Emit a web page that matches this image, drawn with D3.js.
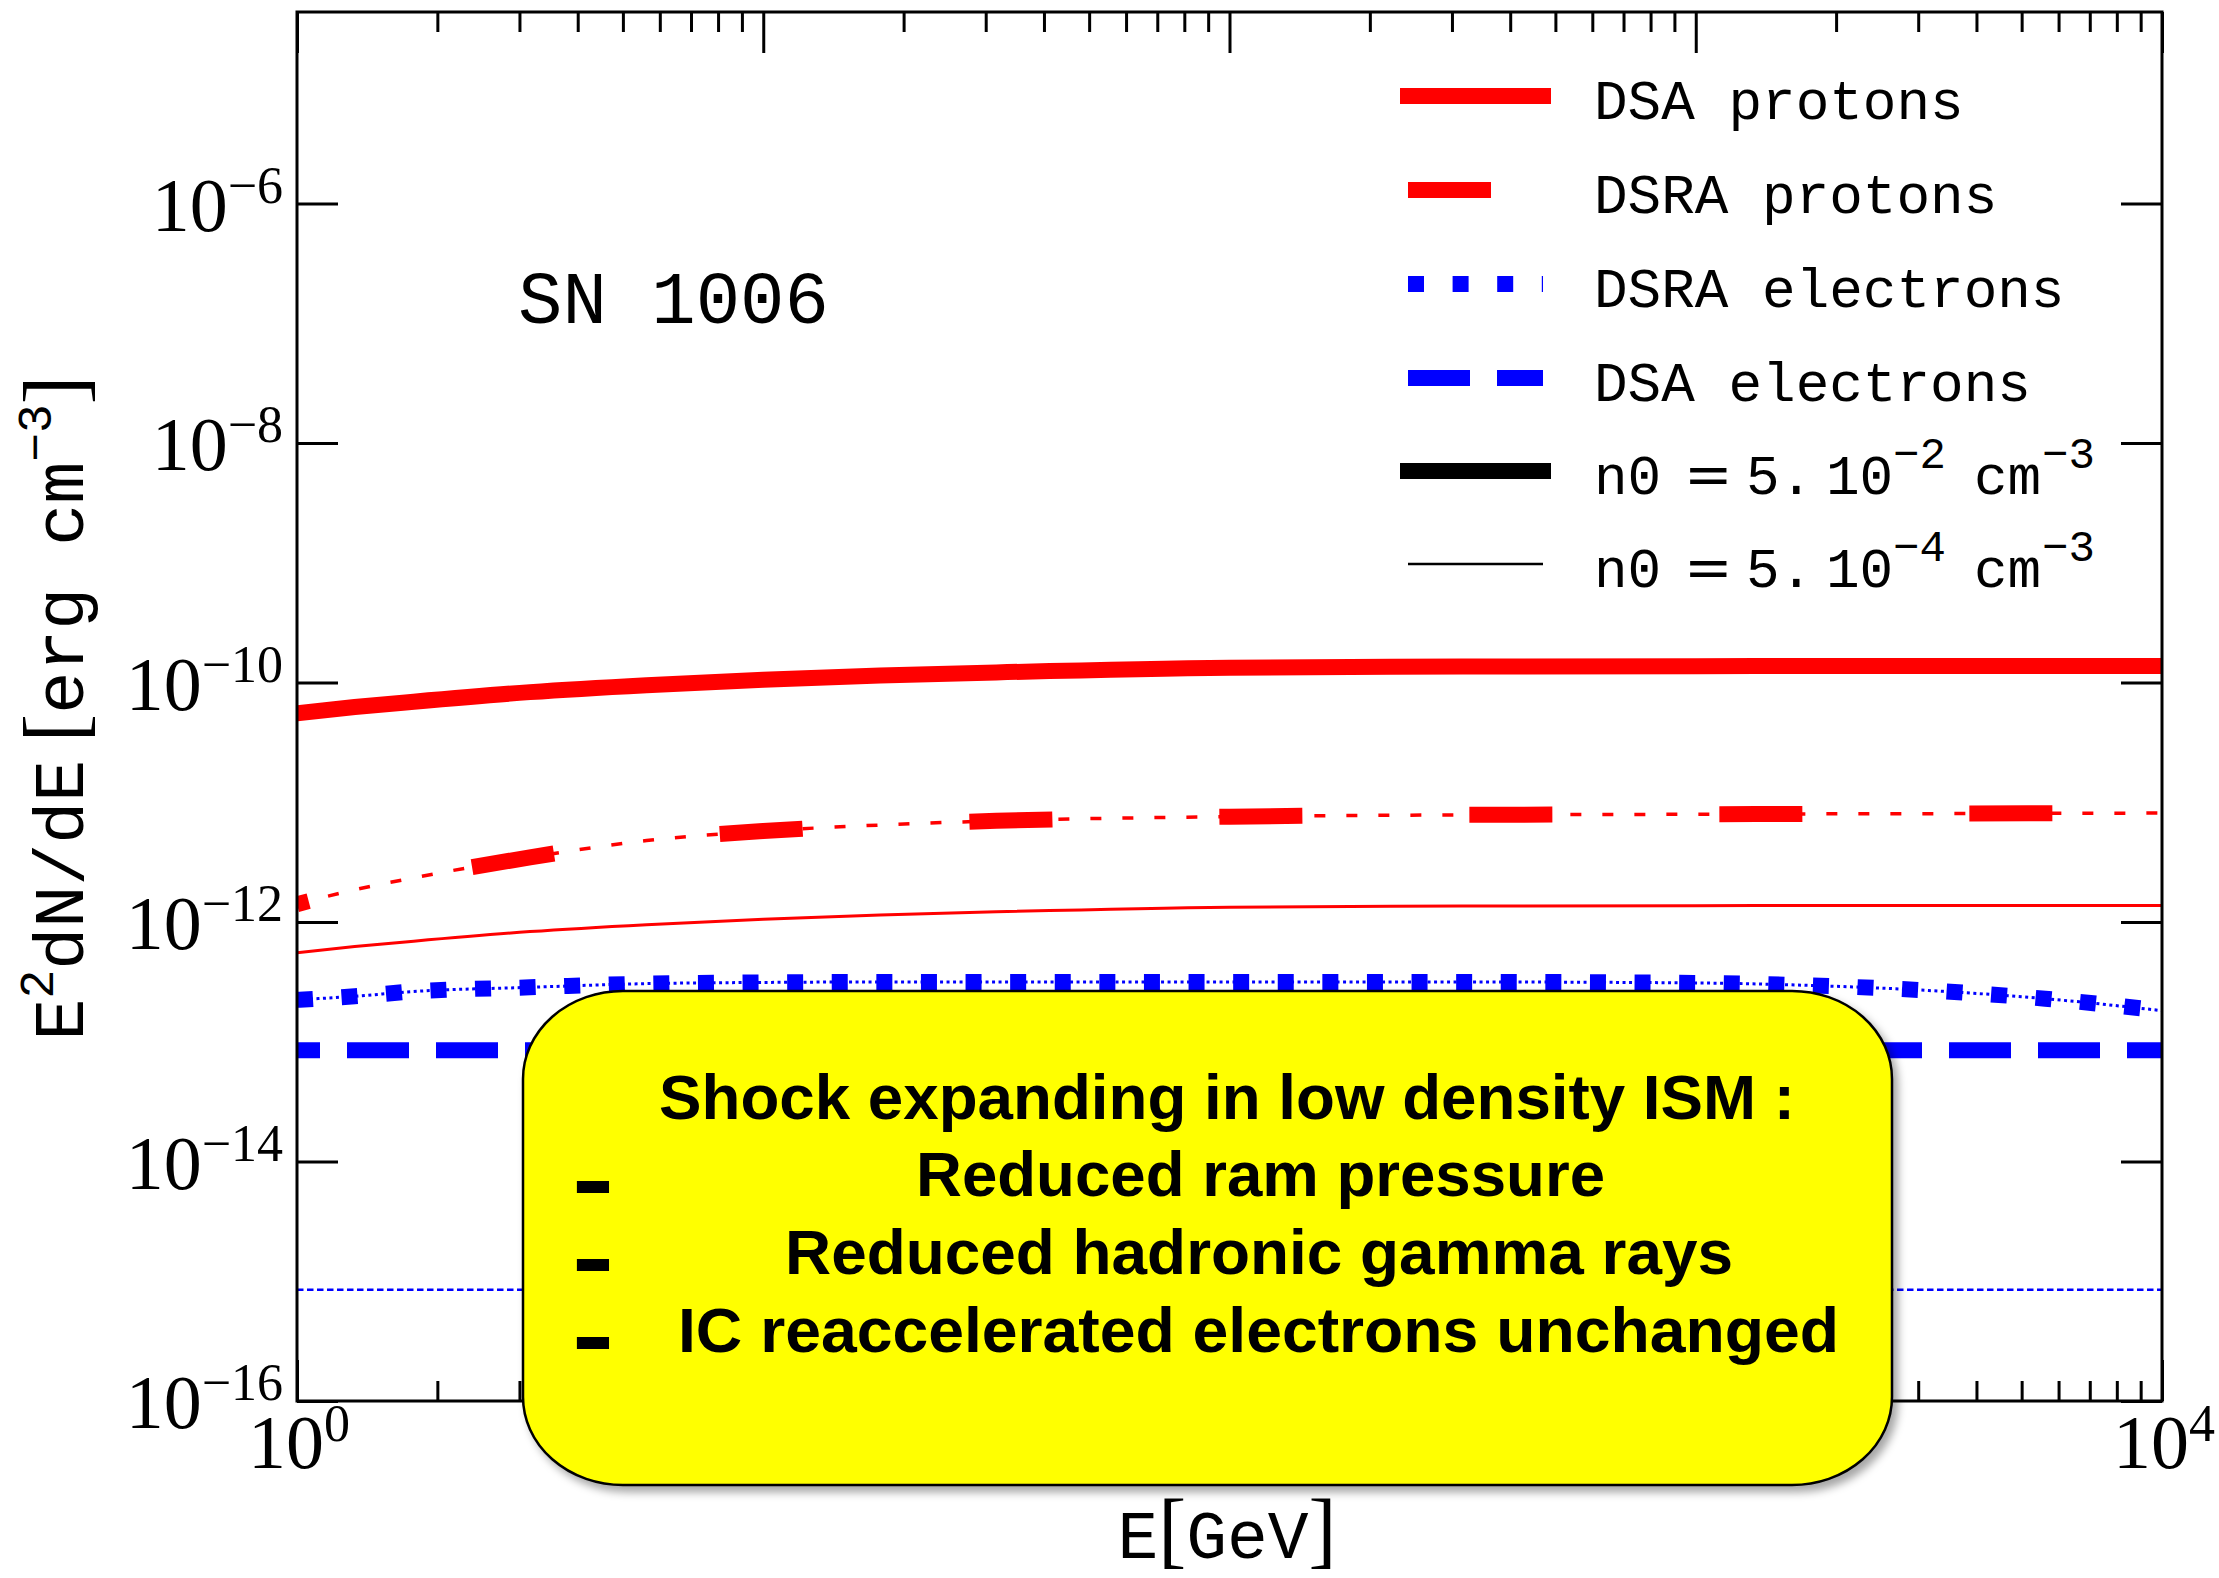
<!DOCTYPE html>
<html><head><meta charset="utf-8">
<script src="https://cdn.jsdelivr.net/npm/d3@7"></script>
<style>html,body{margin:0;padding:0;background:#fff;} svg{display:block;}</style>
</head><body>
<svg id="chart" width="2219" height="1578"></svg>
<script>
// ---------------- DATA ----------------
const energyGeV = [1, 1.33, 1.78, 3.16, 5.62, 10, 17.8, 31.6, 100, 316, 1000, 1780, 3160, 5620, 10000];
const dsaProtonsHigh  = [5.55e-11, 6.24e-11, 6.92e-11, 8.32e-11, 9.51e-11, 1.054e-10, 1.143e-10, 1.216e-10, 1.330e-10, 1.361e-10, 1.371e-10, 1.374e-10, 1.374e-10, 1.374e-10, 1.374e-10];
const dsaProtonsLow   = [5.55e-13, 6.24e-13, 6.92e-13, 8.32e-13, 9.51e-13, 1.054e-12, 1.143e-12, 1.216e-12, 1.330e-12, 1.361e-12, 1.371e-12, 1.374e-12, 1.374e-12, 1.374e-12, 1.374e-12];
const dsraProtonsHigh = [1.41e-12, 1.86e-12, 2.34e-12, 3.47e-12, 4.79e-12, 5.75e-12, 6.46e-12, 7.00e-12, 7.59e-12, 7.85e-12, 7.94e-12, 8.00e-12, 8.04e-12, 8.09e-12, 8.13e-12];
const dsraProtonsLow  = [1.41e-12, 1.86e-12, 2.34e-12, 3.47e-12, 4.79e-12, 5.75e-12, 6.46e-12, 7.00e-12, 7.59e-12, 7.85e-12, 7.94e-12, 8.00e-12, 8.04e-12, 8.09e-12, 8.13e-12];
const dsraElectronsHigh = [2.24e-13, 2.40e-13, 2.63e-13, 2.85e-13, 3.06e-13, 3.13e-13, 3.16e-13, 3.16e-13, 3.16e-13, 3.16e-13, 3.10e-13, 2.95e-13, 2.68e-13, 2.29e-13, 1.82e-13];
const dsraElectronsLow  = [2.24e-13, 2.40e-13, 2.63e-13, 2.85e-13, 3.06e-13, 3.13e-13, 3.16e-13, 3.16e-13, 3.16e-13, 3.16e-13, 3.10e-13, 2.95e-13, 2.68e-13, 2.29e-13, 1.82e-13];
const dsaElectronsHigh = [8.5e-14, 8.5e-14, 8.5e-14, 8.5e-14, 8.5e-14, 8.5e-14, 8.5e-14, 8.5e-14, 8.5e-14, 8.5e-14, 8.5e-14, 8.5e-14, 8.5e-14, 8.5e-14, 8.5e-14];
const dsaElectronsLow  = [8.5e-16, 8.5e-16, 8.5e-16, 8.5e-16, 8.5e-16, 8.5e-16, 8.5e-16, 8.5e-16, 8.5e-16, 8.5e-16, 8.5e-16, 8.5e-16, 8.5e-16, 8.5e-16, 8.5e-16];

const xMajorTicks = [1, 10, 100, 1000, 10000];
const xTickLabels = [[1, "0"], [10000, "4"]];
const yMajorTicks = [1e-16, 1e-14, 1e-12, 1e-10, 1e-8, 1e-6];
const yTickExponents = ["\u221216", "\u221214", "\u221212", "\u221210", "\u22128", "\u22126"];
const legendLabels = ["DSA protons", "DSRA protons", "DSRA electrons", "DSA electrons", "n0 high", "n0 low"];
const densityExponents = ["\u22122", "\u22124"];
const boxLines = ["Shock expanding in low density ISM :", "Reduced ram pressure", "Reduced hadronic gamma rays", "IC reaccelerated electrons unchanged"];
const annotation = "SN 1006";

// ---------------- LAYOUT ----------------
const svg = d3.select("#chart");
const L = 297, R = 2162, T = 12, B = 1401;
const x = d3.scaleLog().domain([1, 1e4]).range([L, R]);
const y = d3.scaleLog().domain([1e-16, Math.pow(10, -4.4)]).range([B, T]);

const defs = svg.append("defs");
defs.append("clipPath").attr("id", "plotclip").append("rect")
  .attr("x", L).attr("y", T).attr("width", R - L).attr("height", B - T);
const f = defs.append("filter").attr("id", "shadow").attr("x", "-5%").attr("y", "-5%").attr("width", "115%").attr("height", "120%");
f.append("feDropShadow").attr("dx", 5).attr("dy", 6).attr("stdDeviation", 4).attr("flood-color", "#000").attr("flood-opacity", 0.35);

const RED = "#ff0000", BLUE = "#0000ff";
const series = [
  {values: dsaProtonsHigh, color: RED, width: 16},
  {values: dsaProtonsLow, color: RED, width: 3},
  {values: dsraProtonsLow, color: RED, width: 3.5, dash: "11,21", offset: 0},
  {values: dsraProtonsHigh, color: RED, width: 16, dash: "83,167", offset: 71},
  {values: dsraElectronsLow, color: BLUE, width: 3, dash: "3,3.5", offset: 0},
  {values: dsraElectronsHigh, color: BLUE, width: 16, dash: "16,28.6", offset: 0},
  {values: dsaElectronsHigh, color: BLUE, width: 16, dash: "62,27", offset: 39},
  {values: dsaElectronsLow, color: BLUE, width: 2.5, dash: "6.5,3.5", offset: 0}
];

const line = d3.line()
  .x((d, i) => x(energyGeV[i]))
  .y(d => y(d))
  .curve(d3.curveMonotoneX);

const gCurves = svg.append("g").attr("clip-path", "url(#plotclip)");
series.forEach(s => {
  gCurves.append("path")
    .attr("d", line(s.values))
    .attr("fill", "none")
    .attr("stroke", s.color)
    .attr("stroke-width", s.width)
    .attr("stroke-dasharray", s.dash || null)
    .attr("stroke-dashoffset", s.offset || 0);
});

// ---------------- AXES ----------------
const xMinorTicks = x.ticks().filter(v => !xMajorTicks.some(m => Math.abs(m - v) < 1e-9));
function styleAxis(g) {
  g.select(".domain").remove();
  g.selectAll(".tick line").attr("stroke", "#000").attr("stroke-width", 3);
  g.selectAll(".tick text").remove();
}
svg.append("g").attr("transform", `translate(0,${B})`)
  .call(d3.axisBottom(x).tickValues(xMajorTicks).tickSize(-41).tickFormat("")).call(styleAxis);
svg.append("g").attr("transform", `translate(0,${B})`)
  .call(d3.axisBottom(x).tickValues(xMinorTicks).tickSize(-20).tickFormat("")).call(styleAxis);
svg.append("g").attr("transform", `translate(0,${T})`)
  .call(d3.axisTop(x).tickValues(xMajorTicks).tickSize(-41).tickFormat("")).call(styleAxis);
svg.append("g").attr("transform", `translate(0,${T})`)
  .call(d3.axisTop(x).tickValues(xMinorTicks).tickSize(-20).tickFormat("")).call(styleAxis);
svg.append("g").attr("transform", `translate(${L},0)`)
  .call(d3.axisLeft(y).tickValues(yMajorTicks).tickSize(-41).tickFormat("")).call(styleAxis);
svg.append("g").attr("transform", `translate(${R},0)`)
  .call(d3.axisRight(y).tickValues(yMajorTicks).tickSize(-41).tickFormat("")).call(styleAxis);

svg.append("rect").attr("x", L).attr("y", T).attr("width", R - L).attr("height", B - T)
  .attr("fill", "none").attr("stroke", "#000").attr("stroke-width", 3);

const SERIF = "'Liberation Serif', 'DejaVu Serif', serif";
const MONO = "'Liberation Mono', 'DejaVu Sans Mono', monospace";

// y tick labels
yMajorTicks.forEach((v, i) => {
  const t = svg.append("text").attr("x", 283).attr("y", y(v) + 27)
    .attr("text-anchor", "end").attr("font-family", SERIF).attr("font-size", 76).attr("fill", "#000");
  t.append("tspan").text("10");
  t.append("tspan").attr("font-size", 52).attr("dy", -28).text(yTickExponents[i]);
});
// x tick labels
xTickLabels.forEach(([v, e]) => {
  const t = svg.append("text").attr("x", x(v) + 2).attr("y", 1468)
    .attr("text-anchor", "middle").attr("font-family", SERIF).attr("font-size", 76).attr("fill", "#000");
  t.append("tspan").text("10");
  t.append("tspan").attr("font-size", 52).attr("dy", -27).text(e);
});

// x label
{
  const t = svg.append("text").attr("x", 1227).attr("y", 1558).attr("text-anchor", "middle")
    .attr("font-family", MONO).attr("font-size", 68).attr("fill", "#000");
  t.append("tspan").text("E");
  t.append("tspan").attr("font-family", SERIF).attr("font-size", 84).text("[");
  t.append("tspan").text("GeV");
  t.append("tspan").attr("font-family", SERIF).attr("font-size", 84).text("]");
}
// y label
{
  const t = svg.append("text").attr("transform", "translate(83,708) rotate(-90)")
    .attr("text-anchor", "middle").attr("font-family", MONO).attr("font-size", 70).attr("fill", "#000");
  t.append("tspan").text("E");
  t.append("tspan").attr("font-size", 48).attr("dy", -30).text("2");
  t.append("tspan").attr("dy", 30).text("dN/dE");
  t.append("tspan").attr("font-family", SERIF).attr("font-size", 86).text("\u2009[");
  t.append("tspan").text("erg cm");
  t.append("tspan").attr("font-size", 48).attr("dy", -32).text("\u22123");
  t.append("tspan").attr("font-family", SERIF).attr("font-size", 86).attr("dy", 32).text("]");
}

// annotation
svg.append("text").attr("x", 518).attr("y", 323).attr("font-family", MONO).attr("font-size", 74)
  .attr("fill", "#000").text(annotation);

// ---------------- LEGEND ----------------
const legendStyles = [
  {color: RED, width: 16, cap: "square"},
  {color: RED, width: 16, dash: "83,167"},
  {color: BLUE, width: 16, dash: "16,28.6"},
  {color: BLUE, width: 16, dash: "62,27"},
  {color: "#000", width: 16, cap: "square"},
  {color: "#000", width: 2.5}
];
const legendBaselines = [119, 213, 307, 401, 494, 587];
legendLabels.forEach((lab, i) => {
  const st = legendStyles[i];
  const by = legendBaselines[i];
  svg.append("line").attr("x1", 1408).attr("x2", 1543).attr("y1", by - 23).attr("y2", by - 23)
    .attr("stroke", st.color).attr("stroke-width", st.width)
    .attr("stroke-linecap", st.cap || "butt")
    .attr("stroke-dasharray", st.dash || null);
  const t = svg.append("text").attr("y", by).attr("font-family", MONO).attr("font-size", 56).attr("fill", "#000");
  if (i < 4) {
    t.attr("x", 1594).text(lab);
  } else {
    const e = densityExponents[i - 4];
    t.append("tspan").attr("x", 1594).text("n0");
    t.append("tspan").attr("x", 1684).attr("font-family", "'DejaVu Serif', serif").attr("font-size", 58).text("=");
    t.append("tspan").attr("x", 1746).text("5.");
    t.append("tspan").attr("x", 1826).text("10");
    t.append("tspan").attr("x", 1893).attr("dy", -26).attr("font-size", 44).text(e);
    t.append("tspan").attr("x", 1974).attr("dy", 26).text("cm");
    t.append("tspan").attr("x", 2042).attr("dy", -26).attr("font-size", 44).text("\u22123");
  }
});

// ---------------- BOX ----------------
const SANS = "'Liberation Sans', Arial, sans-serif";
svg.append("rect").attr("x", 523).attr("y", 991).attr("width", 1369).attr("height", 494)
  .attr("rx", 100).attr("ry", 88)
  .attr("fill", "#ffff00").attr("stroke", "#000").attr("stroke-width", 2.5)
  .attr("filter", "url(#shadow)");
const boxSpecs = [
  {x: 659, w: 1136, y: 1119},
  {x: 916, w: 689, y: 1196},
  {x: 785, w: 948, y: 1274},
  {x: 678, w: 1161, y: 1352}
];
boxLines.forEach((s, i) => {
  const b = boxSpecs[i];
  svg.append("text").attr("x", b.x).attr("y", b.y)
    .attr("font-family", SANS).attr("font-weight", "bold").attr("font-size", 63)
    .attr("textLength", b.w).attr("lengthAdjust", "spacingAndGlyphs")
    .attr("fill", "#000").text(s);
  if (i > 0) {
    svg.append("text").attr("x", 576).attr("y", b.y + 7.5)
      .attr("font-family", SANS).attr("font-weight", "bold").attr("font-size", 66)
      .attr("textLength", 34).attr("lengthAdjust", "spacingAndGlyphs")
      .attr("stroke", "#000").attr("stroke-width", 4)
      .attr("fill", "#000").text("-");
  }
});
</script>
</body></html>
